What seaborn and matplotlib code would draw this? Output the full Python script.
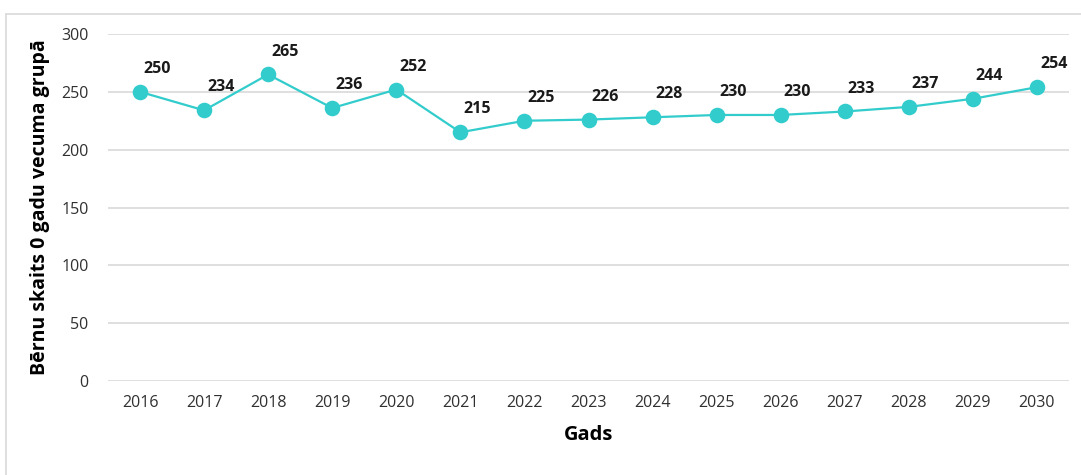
import matplotlib
matplotlib.use('Agg')
import matplotlib.pyplot as plt
import seaborn as sns
import pandas as pd
from matplotlib.lines import Line2D

# ------------------ DATA ------------------
years = ["2016", "2017", "2018", "2019", "2020", "2021", "2022", "2023",
         "2024", "2025", "2026", "2027", "2028", "2029", "2030"]
children = [250, 234, 265, 236, 252, 215, 225, 226, 228, 230, 230, 233, 237, 244, 254]

df = pd.DataFrame({"Gads": years, "skaits": children})

sns.set_theme(style="white")
plt.rcParams['font.family'] = ['Open Sans', 'DejaVu Sans']

fig = plt.figure(figsize=(10.81, 4.75), dpi=100)
ax = fig.add_axes([108 / 1081, 1 - 381 / 475, (1069 - 108) / 1081, (381 - 34) / 475])

sns.pointplot(data=df, x="Gads", y="skaits", color="#33CCCC",
              markers="o", markersize=10, linewidth=1.6, errorbar=None, ax=ax)

# data labels, above-right of each point
for i, v in enumerate(children):
    ax.annotate(str(v), (i, v), xytext=(12, 16.5), textcoords="offset points",
                ha="center", va="center", fontsize=11.5, fontweight="bold",
                color="#1a1a1a")

ax.set_ylim(0, 300)
ax.set_xlim(-0.5, len(years) - 0.5)
ax.set_yticks(range(0, 301, 50))
ax.yaxis.grid(True, color="#d9d9d9", linewidth=1.2)
ax.set_axisbelow(True)
for s in ax.spines.values():
    s.set_visible(False)
ax.tick_params(axis="both", length=0, labelsize=11.5, colors="#303030", pad=10)
ax.tick_params(axis="y", pad=14)

ax.set_xlabel("Gads", fontsize=14.5, fontweight="bold", color="#000000", labelpad=10)
ax.set_ylabel("Bērnu skaits 0 gadu vecuma grupā", fontsize=14, fontweight="bold",
              color="#000000", labelpad=8)

# thin outer frame of the chart area
fig.add_artist(Line2D([6 / 1081, 1], [1 - 14 / 475, 1 - 14 / 475],
                      transform=fig.transFigure, color="#d9d9d9", linewidth=1.2))
fig.add_artist(Line2D([6 / 1081, 6 / 1081], [0, 1 - 14 / 475],
                      transform=fig.transFigure, color="#d9d9d9", linewidth=1.2))

fig.savefig("out.png", dpi=100)
